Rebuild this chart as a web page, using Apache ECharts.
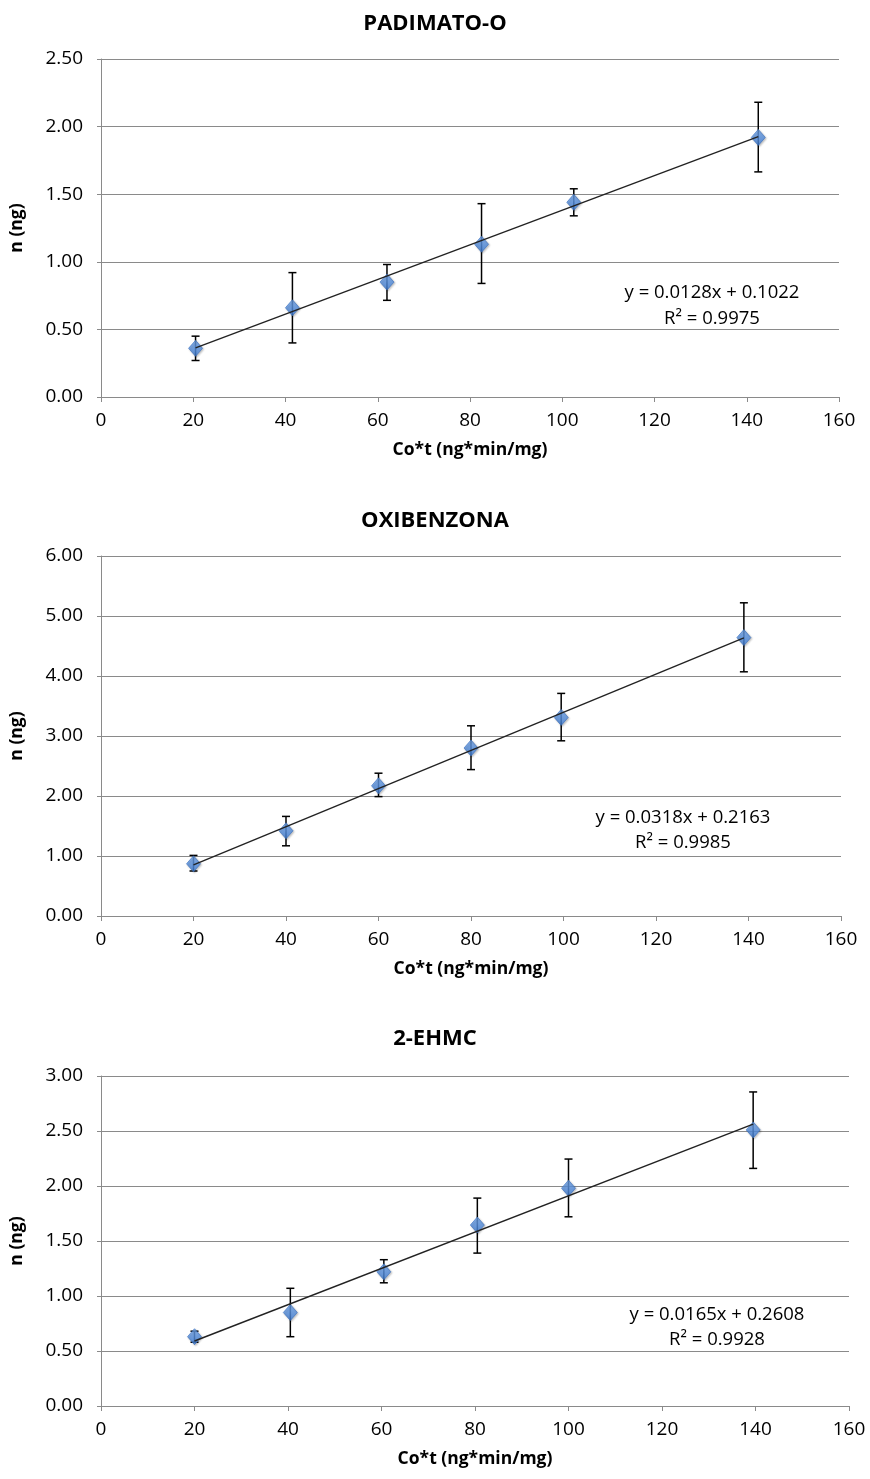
<!DOCTYPE html>
<html>
<head>
<meta charset="utf-8" />
<title>Calibración</title>
<script src="https://cdn.jsdelivr.net/npm/echarts@6/dist/echarts.min.js"></script>
<style>
  html, body { margin: 0; padding: 0; background: #fff; }
  #main { width: 870px; height: 1479px; }
</style>
</head>
<body>
<div id="main"></div>
<script type="text/javascript">
    // ---- datos ----
    var titles = ['PADIMATO-O', 'OXIBENZONA', '2-EHMC'];
    var xTitle = 'Co*t (ng*min/mg)';
    var yTitle = 'n (ng)';

    // PADIMATO-O
    var xPad = [20.5, 41.5, 62, 82.5, 102.5, 142.5];
    var yPad = [0.36, 0.66, 0.85, 1.13, 1.44, 1.92];
    var loPad = [0.27, 0.40, 0.715, 0.84, 1.34, 1.665];
    var hiPad = [0.45, 0.92, 0.98, 1.43, 1.54, 2.18];
    var trendXPad = [20.5, 142.5];
    var trendYPad = [0.364, 1.926];
    var eqPad = ['y = 0.0128x + 0.1022', 'R² = 0.9975'];

    // OXIBENZONA
    var xOxi = [20, 40, 60, 80, 99.5, 139];
    var yOxi = [0.87, 1.42, 2.17, 2.80, 3.31, 4.64];
    var loOxi = [0.75, 1.17, 1.99, 2.44, 2.92, 4.07];
    var hiOxi = [1.01, 1.66, 2.38, 3.17, 3.71, 5.22];
    var trendXOxi = [20, 139];
    var trendYOxi = [0.852, 4.636];
    var eqOxi = ['y = 0.0318x + 0.2163', 'R² = 0.9985'];

    // 2-EHMC
    var xEhm = [20, 40.5, 60.5, 80.5, 100, 139.5];
    var yEhm = [0.63, 0.85, 1.22, 1.645, 1.98, 2.51];
    var loEhm = [0.58, 0.63, 1.12, 1.39, 1.72, 2.16];
    var hiEhm = [0.68, 1.07, 1.33, 1.89, 2.245, 2.855];
    var trendXEhm = [20, 139.5];
    var trendYEhm = [0.591, 2.562];
    var eqEhm = ['y = 0.0165x + 0.2608', 'R² = 0.9928'];

    var yMax = [2.5, 6, 3];
    var yStep = [0.5, 1, 0.5];

    var FONT = '"Open Sans", "Liberation Sans", sans-serif';
    var GRID_COLOR = '#8a8a8a';

    var grids = [
        { left: 100, top: 59, width: 739, height: 338 },
        { left: 99, top: 556, width: 742, height: 360 },
        { left: 93, top: 1076, width: 756, height: 330 }
    ];

    function pairs(xs, ys) {
        var out = [];
        for (var i = 0; i < xs.length; i++) out.push([xs[i], ys[i]]);
        return out;
    }
    function triples(xs, lo, hi) {
        var out = [];
        for (var i = 0; i < xs.length; i++) out.push([xs[i], lo[i], hi[i]]);
        return out;
    }

    function renderErr(params, api) {
        var x = api.value(0);
        var top = api.coord([x, api.value(2)]);
        var bot = api.coord([x, api.value(1)]);
        var w = 4;
        var st = { stroke: '#000', lineWidth: 1.5 };
        return {
            type: 'group',
            children: [
                { type: 'line', shape: { x1: top[0], y1: top[1], x2: bot[0], y2: bot[1] }, style: st },
                { type: 'line', shape: { x1: top[0] - w, y1: top[1], x2: top[0] + w, y2: top[1] }, style: st },
                { type: 'line', shape: { x1: bot[0] - w, y1: bot[1], x2: bot[0] + w, y2: bot[1] }, style: st }
            ]
        };
    }

    var markerStyle = {
        color: {
            type: 'linear', x: 0, y: 0, x2: 0, y2: 1,
            colorStops: [{ offset: 0, color: '#72a6ec' }, { offset: 1, color: '#3f7dd4' }]
        },
        borderColor: '#3a70c0',
        borderWidth: 0.8,
        shadowBlur: 2,
        shadowColor: 'rgba(0,0,0,0.3)',
        shadowOffsetX: 1,
        shadowOffsetY: 1
    };

    var sets = [
        { x: xPad, y: yPad, lo: loPad, hi: hiPad, tx: trendXPad, ty: trendYPad },
        { x: xOxi, y: yOxi, lo: loOxi, hi: hiOxi, tx: trendXOxi, ty: trendYOxi },
        { x: xEhm, y: yEhm, lo: loEhm, hi: hiEhm, tx: trendXEhm, ty: trendYEhm }
    ];
    var eqs = [eqPad, eqOxi, eqEhm];
    var eqPos = [[712, 293, 319], [683, 818, 843], [717, 1315, 1340]];
    var titleTop = [8, 505, 1023];

    var title = [], xAxis = [], yAxis = [], series = [], graphic = [];

    for (var k = 0; k < 3; k++) {
        title.push({
            text: titles[k],
            left: 'center',
            top: titleTop[k],
            textStyle: { fontFamily: FONT, fontSize: 22, fontWeight: 'bold', color: '#000' }
        });
        xAxis.push({
            type: 'value', gridIndex: k, min: 0, max: 160, interval: 20,
            name: xTitle, nameLocation: 'middle', nameGap: 44,
            nameTextStyle: { fontFamily: FONT, fontSize: 17.5, fontWeight: 'bold', color: '#000' },
            axisLine: { show: true, onZero: false, lineStyle: { color: GRID_COLOR, width: 1 } },
            axisTick: { show: true, length: 5, lineStyle: { color: GRID_COLOR } },
            axisLabel: { margin: 14, fontFamily: FONT, fontSize: 19, color: '#000' },
            splitLine: { show: false }
        });
        yAxis.push({
            type: 'value', gridIndex: k, min: 0, max: yMax[k], interval: yStep[k],
            name: yTitle, nameLocation: 'middle', nameGap: 75, nameRotate: 90,
            nameTextStyle: { fontFamily: FONT, fontSize: 17.5, fontWeight: 'bold', color: '#000' },
            axisLine: { show: true, lineStyle: { color: GRID_COLOR, width: 1 } },
            axisTick: { show: true, length: 4, lineStyle: { color: GRID_COLOR } },
            axisLabel: {
                margin: 18, fontFamily: FONT, fontSize: 19, color: '#000',
                formatter: function (v) { return v.toFixed(2); }
            },
            splitLine: { show: true, lineStyle: { color: GRID_COLOR, width: 1 } }
        });
        var s = sets[k];
        series.push({
            type: 'custom', xAxisIndex: k, yAxisIndex: k,
            renderItem: renderErr, data: triples(s.x, s.lo, s.hi), z: 2, silent: true
        });
        series.push({
            type: 'scatter', xAxisIndex: k, yAxisIndex: k,
            symbol: 'diamond', symbolSize: [14, 16],
            itemStyle: markerStyle, data: pairs(s.x, s.y), z: 3
        });
        series.push({
            type: 'line', xAxisIndex: k, yAxisIndex: k,
            data: pairs(s.tx, s.ty), showSymbol: false, symbol: 'none',
            lineStyle: { color: '#222', width: 1.4 }, z: 4, silent: true
        });
        graphic.push({
            type: 'text', x: eqPos[k][0], y: eqPos[k][1],
            style: { text: eqs[k][0], fontFamily: FONT, fontSize: 18.5, fill: '#000', align: 'center', verticalAlign: 'middle' }
        });
        graphic.push({
            type: 'text', x: eqPos[k][0], y: eqPos[k][2],
            style: { text: eqs[k][1], fontFamily: FONT, fontSize: 18.5, fill: '#000', align: 'center', verticalAlign: 'middle' }
        });
    }

    var myChart = echarts.init(document.getElementById('main'));
    myChart.setOption({
        animation: false,
        backgroundColor: '#fff',
        title: title,
        grid: grids,
        xAxis: xAxis,
        yAxis: yAxis,
        series: series,
        graphic: graphic
    });
</script>
</body>
</html>
